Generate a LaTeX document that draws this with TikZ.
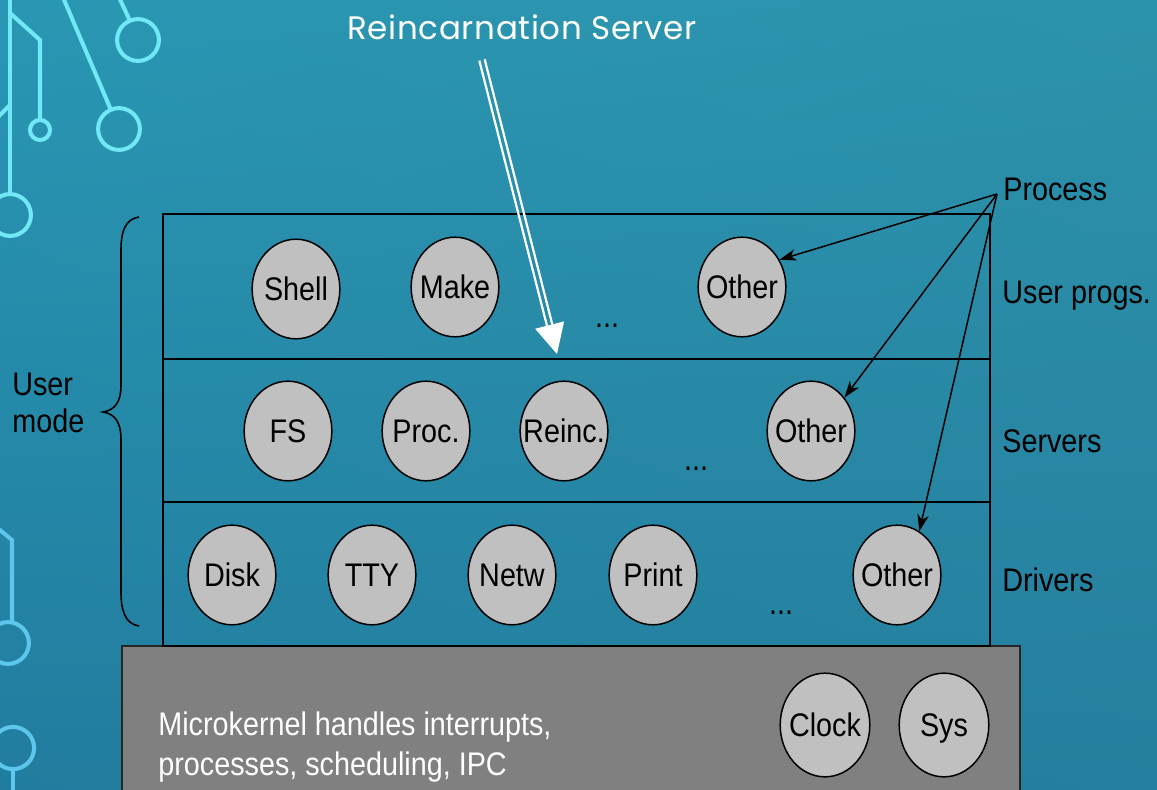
\documentclass[tikz,border=0pt]{standalone}
\usepackage{fontspec}
\setmainfont{Liberation Sans}[FakeStretch=0.88]
\newfontfamily\titlefont{Poppins}[LetterSpace=2]
\usetikzlibrary{arrows.meta,calc,shapes.geometric}

% backdrop: bilinear blend of four corner colours (x,y in 0..100)
\pgfdeclarefunctionalshading{backdrop}{\pgfpoint{0bp}{0bp}}{\pgfpoint{100bp}{100bp}}{}{
  100 div exch 100 div exch
  2 copy mul
  3 copy 0.016 mul exch 0.055 mul add exch 0.023 mul add 0.110 add 4 1 roll
  3 copy -0.110 mul exch 0.235 mul add exch 0.047 mul add 0.424 add 4 1 roll
  3 copy -0.106 mul exch 0.185 mul add exch 0.016 mul add 0.580 add 4 1 roll
  pop pop pop
}

\definecolor{circA}{RGB}{112,232,246}
\definecolor{circB}{RGB}{92,198,236}
\definecolor{bubble}{RGB}{192,192,192}
\definecolor{kernelgray}{RGB}{128,128,128}

\newcommand\bubtext[1]{\makebox[0pt]{#1}}

\tikzset{
  x=0.02cm, y=-0.02cm,
  lbl/.style={font=\fontsize{18.6}{21.5}\selectfont, inner sep=0pt},
  bub/.style={ellipse, draw=black, line width=0.85pt, fill=bubble,
    minimum width=49.9pt, minimum height=56.7pt, inner sep=0pt,
    text height=13.3pt, text depth=0pt,
    font=\fontsize{18.6}{21.5}\selectfont},
  kbub/.style={bub, minimum width=51pt, minimum height=59pt},
  dotlbl/.style={lbl, anchor=base},
  layerbox/.style={draw=black, line width=1.1pt},
  circuit/.style={draw=circA, line width=2.3pt},
  circuitlow/.style={draw=circB, line width=2.3pt},
  parr/.style={draw=black, line width=0.85pt,
    -{Stealth[length=9.5pt,width=6.5pt,inset=2.8pt]}},
  whiteline/.style={draw=white, line width=1.25pt},
}

\begin{document}
\begin{tikzpicture}
% canvas and background
\clip (0,0) rectangle (1157,789);
\shade[shading=backdrop] (0,0) rectangle (1157,789);

% circuit ornaments, upper left
\draw[circuit] (10,-5) -- (10,194);
\draw[circuit] (10,215) circle[radius=11.9pt];
\draw[circuit] (10,13) -- (40,40) -- (40,120);
\draw[circuit] (40,130) circle[radius=5.7pt];
\draw[circuit] (-3,118) -- (10,105);
\draw[circuit] (62,-5) -- (111,110);
\draw[circuit] (119,129) circle[radius=11.9pt];
\draw[circuit] (118,-5) -- (130,21);
\draw[circuit] (138,40) circle[radius=11.9pt];

% circuit ornaments, lower left
\draw[circuitlow] (-5,526) -- (12,540) -- (12,623);
\draw[circuitlow] (8,643) circle[radius=11.9pt];
\draw[circuitlow] (13,748) circle[radius=12pt];
\draw[circuitlow] (13,770) -- (13,800);

% microkernel
\draw[fill=kernelgray, draw=black!85, line width=1pt] (122,646) rectangle (1020,810);
\node[lbl, white, anchor=west, align=left, font=\fontsize{18.6}{23.2}\selectfont] (mk) at (158,747)
  {Microkernel handles interrupts,\\processes, scheduling, IPC};
\node[kbub] (clock) at (825,725) {\bubtext{Clock}};
\node[kbub] (sys) at (944,725) {\bubtext{Sys}};

% user-mode layers
\draw[layerbox] (163,214) rectangle (990,359);
\draw[layerbox] (163,359) rectangle (990,502);
\draw[layerbox] (163,502) rectangle (990,646);

% user programs
\node[bub] (shell) at (296,289) {\bubtext{Shell}};
\node[bub] (make)  at (455,287) {\bubtext{Make}};
\node[bub] (oth1)  at (742,287) {\bubtext{Other}};
\node[dotlbl] (dots1) at (607,327) {...};

% servers
\node[bub] (fs)    at (288,431) {\bubtext{FS}};
\node[bub] (procs) at (426,431) {\bubtext{Proc.}};
\node[bub] (reinc) at (564,431) {\bubtext{Reinc.}};
\node[bub] (oth2)  at (811,431) {\bubtext{Other}};
\node[dotlbl] (dots2) at (696,470) {...};

% drivers
\node[bub] (disk)  at (232,575) {\bubtext{Disk}};
\node[bub] (tty)   at (372,575) {\bubtext{TTY}};
\node[bub] (netw)  at (512,575) {\bubtext{Netw}};
\node[bub] (print) at (653,575) {\bubtext{Print}};
\node[bub] (oth3)  at (897,575) {\bubtext{Other}};
\node[dotlbl] (dots3) at (781,614) {...};

% layer names
\node[lbl, anchor=base west] (lproc)  at (1003,200) {Process};
\node[lbl, anchor=base west] (luser)  at (1002,303) {User progs.};
\node[lbl, anchor=base west] (lserv)  at (1002,452) {Servers};
\node[lbl, anchor=base west] (ldrv)   at (1002,591) {Drivers};

% user mode brace
\draw[black, line width=0.9pt] (139,217) .. controls (125,219) and (121,232) .. (121,250)
  -- (121,385) .. controls (121,402) and (115,410) .. (103,412)
  .. controls (115,414) and (121,422) .. (121,440)
  -- (121,592) .. controls (121,610) and (125,624) .. (139,626);
\node[lbl, anchor=west, align=left] (umode) at (12,403) {User\\mode};

% process pointers
\coordinate (pp) at (997,194);
\draw[parr] (pp) -- (oth1.36);
\draw[parr] (pp) -- (oth2.45);
\draw[parr] (pp) -- (oth3.63);

% reincarnation server callout
\node[white, inner sep=0pt, font=\titlefont\fontsize{18.5}{22}\selectfont] (title) at (522,27)
  {Reincarnation Server};
\coordinate (ra1) at (482,60);
\coordinate (ra2) at (557,354);
\coordinate (rb) at ($(ra2)!17pt!(ra1)$);
\draw[whiteline] ($(ra1)!1.56pt!90:(ra2)$) -- ($(rb)!1.56pt!-90:(ra1)$);
\draw[whiteline] ($(ra1)!1.56pt!-90:(ra2)$) -- ($(rb)!1.56pt!90:(ra1)$);
\fill[white] (ra2) -- ($(rb)!8.5pt!90:(ra2)$) -- ($(rb)!8.5pt!-90:(ra2)$) -- cycle;
\end{tikzpicture}
\end{document}
